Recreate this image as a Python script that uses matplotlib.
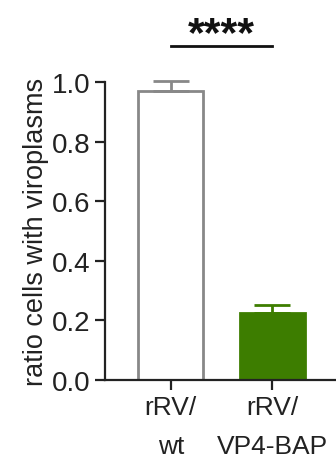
import matplotlib
matplotlib.use("Agg")
import matplotlib.pyplot as plt

plt.rcParams["font.family"] = ["Liberation Sans", "DejaVu Sans"]

# Values.
groups = ["rRV/\nwt", "rRV/\nVP4-BAP"]
means = [0.97, 0.225]
errors = [0.033, 0.027]
face_colors = ["white", "#3d7d00"]
edge_colors = ["#888888", "#3d7d00"]
y_ticks = [0.0, 0.2, 0.4, 0.6, 0.8, 1.0]
sig_label = "****"

fig = plt.figure(figsize=(3.36, 4.64), dpi=100)
ax = fig.add_axes([0.3125, 0.179, 0.6875, 0.642])

x = range(len(groups))
ax.bar(x, means, width=0.64, color=face_colors, edgecolor=edge_colors, linewidth=2)
for xi, m, e, c in zip(x, means, errors, edge_colors):
    # upper error bar only, like GraphPad
    ax.errorbar([xi], [m], yerr=[[0], [e]], fmt="none", ecolor=c, elinewidth=2,
                capsize=13, capthick=2, clip_on=False)

ax.set_xlim(-0.65, 1.63)
ax.set_ylim(0, 1.0)
ax.set_yticks(y_ticks)
ax.set_yticklabels(["%.1f" % t for t in y_ticks])
ax.set_xticks(list(x))
ax.set_xticklabels(groups, linespacing=1.75)

for side in ["top", "right"]:
    ax.spines[side].set_visible(False)
for side in ["left", "bottom"]:
    ax.spines[side].set_linewidth(1.6)
    ax.spines[side].set_color("#222222")
ax.tick_params(axis="both", width=1.6, length=7.2, color="#222222",
               labelcolor="#222222")
ax.tick_params(axis="y", labelsize=20, pad=3)
ax.tick_params(axis="x", labelsize=19, pad=4)

ax.set_ylabel("ratio cells with viroplasms", fontsize=19.5, color="#222222", labelpad=2)

# significance bracket
ax.plot([0, 1], [1.12, 1.12], color="#111111", lw=2, clip_on=False)
ax.text(0.5, 1.125, sig_label, ha="center", va="baseline", fontsize=31,
        fontweight="bold", color="#111111", clip_on=False)

fig.savefig("out.png", dpi=100)
